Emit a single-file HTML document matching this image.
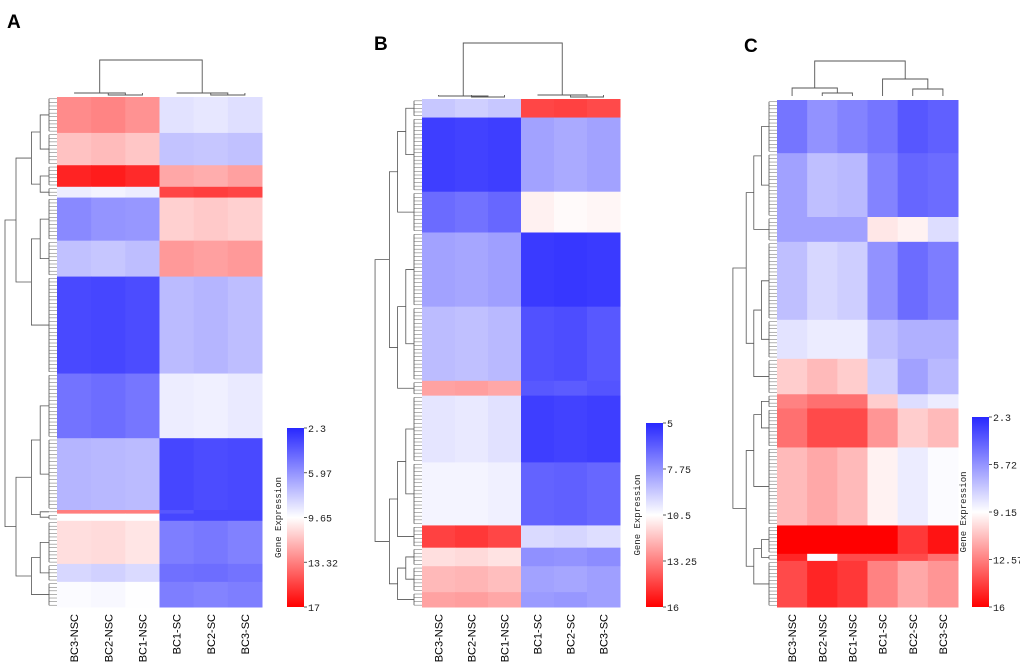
<!DOCTYPE html>
<html><head><meta charset="utf-8">
<style>
html,body{margin:0;padding:0;background:#fff;}
svg{display:block;}
</style></head>
<body>
<svg id="fig" width="1020" height="665" viewBox="0 0 1020 665" xmlns="http://www.w3.org/2000/svg"></svg>
<script>
// ---------- data ----------
const columnLabels = ["BC3-NSC","BC2-NSC","BC1-NSC","BC1-SC","BC2-SC","BC3-SC"];

// Panel A: genes per cluster block and expression per column
const countsA = [10,9,6,3,12,10,27,18,20,1,2,12,5,7];
const valuesA = [
 [13,13.2,12.8,8.6,8.8,8.5],[11.4,11.6,11.3,7.5,7.6,7.4],[16,16.2,15.8,12.2,12,12.4],
 [9,9.2,9,15,15.2,15],[5.4,5.8,5.9,11,11.2,11],[7.4,7.6,7.3,12.6,12.4,12.6],
 [3.1,3,3.2,7.2,7,7.3],[4.6,4.4,4.7,9,9.1,8.9],[7,7.1,7.2,3,3.2,3.1],
 [13.4,13.4,13.4,3.6,3,3],[9.6,9.6,9.6,3,3,3],[10.6,10.7,10.4,5,4.8,5.1],
 [8.2,8,8.3,4.5,4.4,4.6],[9.5,9.4,9.6,5,5.2,5]];
const ticksA = ["2.3","5.97","9.65","13.32","17"];
const rangeA = [2.3,17];

// Panel B
const countsB = [5,20,11,20,20,4,18,17,6,5,7,4];
const valuesB = [
 [9,9.2,9,14.5,14.6,14.4],[5.3,5.4,5.3,8,8.2,8],[6.5,6.7,6.4,10.8,10.6,10.7],
 [8,8.1,7.9,5.2,5.1,5.2],[8.7,8.8,8.6,5.8,5.7,6],[12.5,12.6,12.4,6,6.1,5.9],
 [9.8,9.9,9.7,5.3,5.4,5.3],[10.2,10.2,10.1,6.3,6.2,6.4],[14.6,14.8,14.5,9.5,9.4,9.6],
 [11.2,11.3,11.1,7.5,7.6,7.4],[12,12.1,11.9,8,8.1,7.9],[12.5,12.6,12.4,7.8,7.7,7.9]];
const ticksB = ["5","7.75","10.5","13.25","16"];
const rangeB = [5,16];

// Panel C
const countsC = [15,18,7,22,11,10,4,11,22,8,2,13];
const valuesC = [
 [4.5,5.5,5,4.5,3.5,3.8],[6,7,6.8,5,4,4.2],[6,6,6,9.8,9.5,8],
 [7,7.8,7.5,5.5,4.2,4.8],[8.2,8.5,8.5,7,6.5,6.5],[10.5,11,10.5,7.5,6,6.8],
 [12.5,13,13,10.5,8,8.5],[13,14,14,12,10.5,11],[11,11.5,11,9.5,8.5,9],
 [16,16,16,16,14.5,15.5],[15,9,14,14,14,13],[14,15,14.5,12.5,11.5,12]];
const ticksC = ["2.3","5.72","9.15","12.57","16"];
const rangeC = [2.3,16];

// ---------- drawing ----------
const NS="http://www.w3.org/2000/svg";
const svg=document.getElementById("fig");
function mk(tag,attrs,parent){const e=document.createElementNS(NS,tag);for(const k in attrs)e.setAttribute(k,attrs[k]);(parent||svg).appendChild(e);return e;}
function color(v,lo,hi){
  let t=(v-lo)/(hi-lo);t=Math.max(0,Math.min(1,t));
  let r,g,b;
  if(t<0.5){const s=t/0.5;r=51+(255-51)*s;g=51+(255-51)*s;b=255;}
  else{const s=(t-0.5)/0.5;r=255;g=255*(1-s);b=255*(1-s);}
  return `rgb(${Math.round(r)},${Math.round(g)},${Math.round(b)})`;
}
function panel(cfg){
  const g=mk("g",{});
  
  
  const total=cfg.counts.reduce((a,b)=>a+b,0);
  const rowH=(cfg.y1-cfg.y0)/total;
  const colW=(cfg.x1-cfg.x0)/6;
  const yScale=i=>cfg.y0+i*rowH;
  const xScale=j=>cfg.x0+j*colW;
  let r=0;const segMid=[];
  cfg.counts.forEach((n,si)=>{
    for(let j=0;j<6;j++){
      const c=mk("rect",{x:xScale(j),y:yScale(r),width:colW+0.5,height:n*rowH+0.5,fill:color(cfg.values[si][j],cfg.range[0],cfg.range[1])},g);
      
      
    }
    const lx=cfg.x0-8;
    for(let k=0;k<n;k++){
      const yy=yScale(r+k+0.5);
      mk("line",{x1:lx,y1:yy,x2:cfg.x0,y2:yy,stroke:"#666","stroke-width":0.5},g);
    }
    mk("line",{x1:lx,y1:yScale(r+0.5),x2:lx,y2:yScale(r+n-0.5),stroke:"#555","stroke-width":0.8},g);
    segMid.push({y:yScale(r+n/2),x:lx});
    r+=n;
  });
  const depthW=(cfg.x0-8-cfg.dl)/4;
  function build(a,b){
    if(a===b)return segMid[a];
    const m=Math.floor((a+b)/2);
    const L=build(a,m),R=build(m+1,b);
    const x=Math.min(L.x,R.x)-depthW*(b-a>=6?1.4:0.8);
    const xx=Math.max(cfg.dl,x);
    mk("path",{d:`M${L.x},${L.y}H${xx}V${R.y}H${R.x}`,fill:"none",stroke:"#555","stroke-width":0.8},g);
    return {x:xx,y:(L.y+R.y)/2};
  }
  build(0,cfg.counts.length-1);
  const cx=j=>xScale(j)+colW/2;
  const top=cfg.ctop,base=cfg.y0-4;
  const d=[];
  const sub=(a,b,c,h1,h2)=>{d.push(`M${cx(b)},${base}V${h1}H${cx(c)}V${base}`);const m=(cx(b)+cx(c))/2;d.push(`M${cx(a)},${base}V${h2}H${m}V${h1}`);return (cx(a)+m)/2;};
  const lm=sub(0,1,2,cfg.h1,cfg.h2),rm=sub(3,4,5,cfg.h1b,cfg.h2b);
  d.push(`M${lm},${cfg.h2}V${top}H${rm}V${cfg.h2b}`);
  const cd=mk("path",{d:d.join(""),fill:"none",stroke:"#555","stroke-width":0.9},g);
  
  
  columnLabels.forEach((t,j)=>{
    const tx=mk("text",{x:0,y:0,transform:`translate(${cx(j)+4},614) rotate(-90)`,"text-anchor":"end","font-family":"Liberation Sans, sans-serif","font-size":11,fill:"#000"},g);
    tx.textContent=t;
    
    
  });
  const pl=mk("text",{x:cfg.lx,y:cfg.ly,"font-family":"Liberation Sans, sans-serif","font-size":19,"font-weight":"bold"},g);
  pl.textContent=cfg.letter;
  
  
  const gid="grad"+cfg.letter;
  const defs=mk("defs",{},g);
  const lg=mk("linearGradient",{id:gid,x1:0,y1:0,x2:0,y2:1},defs);
  mk("stop",{offset:"0","stop-color":"rgb(40,40,255)"},lg);
  mk("stop",{offset:"0.5","stop-color":"#fff"},lg);
  mk("stop",{offset:"1","stop-color":"#ff0000"},lg);
  const cb=mk("rect",{x:cfg.cbx,y:cfg.cby0,width:17,height:cfg.cby1-cfg.cby0,fill:`url(#${gid})`},g);
  
  
  cfg.ticks.forEach((t,i)=>{
    const yy=cfg.cby0+i*(cfg.cby1-cfg.cby0)/4;
    mk("line",{x1:cfg.cbx+17,y1:yy,x2:cfg.cbx+20,y2:yy,stroke:"#333","stroke-width":0.8},g);
    const tt=mk("text",{x:cfg.cbx+21,y:yy+4,"font-family":"Liberation Mono, monospace","font-size":10,fill:"#222"},g);
    tt.textContent=t;
    
    
  });
  const ct=mk("text",{x:0,y:0,transform:`translate(${cfg.cbx-6},${(cfg.cby0+cfg.cby1)/2}) rotate(-90)`,"text-anchor":"middle","font-family":"Liberation Mono, monospace","font-size":9,fill:"#222"},g);
  ct.textContent="Gene Expression";
  
  
}
panel({letter:"A",counts:countsA,values:valuesA,ticks:ticksA,range:rangeA,x0:57,x1:262,y0:97,y1:607,dl:5,ctop:60,h1:95,h2:93,h1b:95,h2b:93,lx:7,ly:28,cbx:287,cby0:428,cby1:607});
panel({letter:"B",counts:countsB,values:valuesB,ticks:ticksB,range:rangeB,x0:422,x1:620,y0:99,y1:607,dl:373,ctop:43,h1:97,h2:96,h1b:97,h2b:95,lx:374,ly:50,cbx:646,cby0:423,cby1:607});
panel({letter:"C",counts:countsC,values:valuesC,ticks:ticksC,range:rangeC,x0:777,x1:958,y0:100,y1:607,dl:731,ctop:61,h1:93,h2:88,h1b:89,h2b:79,lx:744,ly:52,cbx:972,cby0:417,cby1:607});
</script>
</body></html>
